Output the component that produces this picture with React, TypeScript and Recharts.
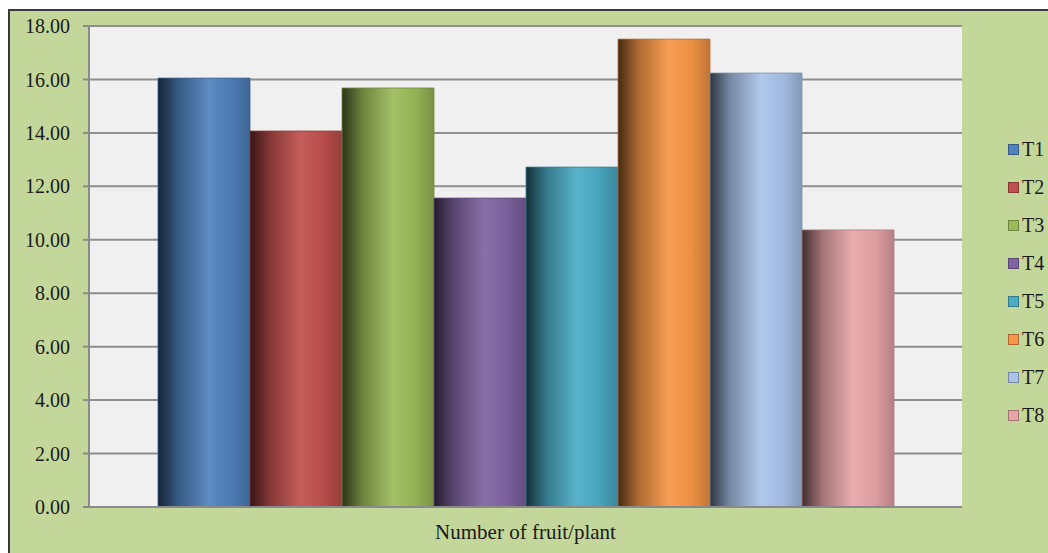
import { BarChart, Bar, XAxis, YAxis, CartesianGrid } from "recharts";

// treatments and their mean number of fruit per plant
const treatments = ["T1", "T2", "T3", "T4", "T5", "T6", "T7", "T8"];
const fruitPerPlant = [16.05, 14.07, 15.68, 11.56, 12.72, 17.51, 16.24, 10.37];
const barColors = [
  "#4F81BD",
  "#C0504D",
  "#9BBB59",
  "#8064A2",
  "#4BACC6",
  "#F79646",
  "#A9C3EA",
  "#E8A5A8",
];
const yTicks = [0, 2, 4, 6, 8, 10, 12, 14, 16, 18];
const categoryLabel = "Number of fruit/plant";

const data = [
  treatments.reduce(
    (row, t, i) => ({ ...row, [t]: fruitPerPlant[i] }),
    { name: categoryLabel } as Record<string, string | number>
  ),
];

const FONT = '"Liberation Serif", "Times New Roman", serif';

// scale an rgb hex by a factor (<1 darker, >1 lighter)
function shade(hex: string, f: number) {
  const n = parseInt(hex.slice(1), 16);
  const ch = [(n >> 16) & 255, (n >> 8) & 255, n & 255].map((c) => {
    const v = f <= 1 ? c * f : c + (255 - c) * (f - 1);
    return Math.max(0, Math.min(255, Math.round(v)));
  });
  return "rgb(" + ch.join(",") + ")";
}

export default function App() {
  return (
    <div
      style={{
        position: "fixed",
        left: 0,
        top: 0,
        width: 1048,
        height: 553,
        overflow: "hidden",
        background: "#fff",
      }}
    >
      <div
        style={{
          position: "absolute",
          left: 8,
          top: 9,
          width: 1080,
          height: 580,
          border: "2px solid #3a3a3a",
          background: "#C4D79B",
          fontFamily: FONT,
        }}
      >
        <BarChart
          width={1060}
          height={560}
          data={data}
          margin={{ top: 15, right: 108, left: 0, bottom: 24 }}
          barCategoryGap={69}
          barGap={0}
        >
          <defs>
            {barColors.map((c, i) => (
              <linearGradient key={i} id={"bar" + i} x1="0" y1="0" x2="1" y2="0">
                <stop offset="0%" stopColor={shade(c, 0.28)} />
                <stop offset="22%" stopColor={shade(c, 0.7)} />
                <stop offset="55%" stopColor={shade(c, 1.08)} />
                <stop offset="80%" stopColor={shade(c, 0.95)} />
                <stop offset="100%" stopColor={shade(c, 0.78)} />
              </linearGradient>
            ))}
          </defs>
          <CartesianGrid
            vertical={false}
            fill="#F0F0F0"
            stroke="#8e8e8e"
            strokeWidth={2}
          />
          <XAxis
            dataKey="name"
            height={40}
            tickLine={false}
            tickMargin={11}
            axisLine={{ stroke: "#8a8a8a", strokeWidth: 2 }}
            tick={{ fill: "#1a1a1a", fontSize: 21, fontFamily: FONT }}
          />
          <YAxis
            width={79}
            domain={[0, 18]}
            ticks={yTicks}
            interval={0}
            tickFormatter={(v: number) => v.toFixed(2)}
            tickSize={6}
            tickMargin={13}
            axisLine={{ stroke: "#8a8a8a", strokeWidth: 2 }}
            tickLine={{ stroke: "#8a8a8a", strokeWidth: 2 }}
            tick={{ fill: "#1a1a1a", fontSize: 20, fontFamily: FONT }}
          />
          {treatments.map((t, i) => (
            <Bar
              key={t}
              dataKey={t}
              fill={"url(#bar" + i + ")"}
              stroke={shade(barColors[i], 0.75)}
              strokeWidth={0.8}
              isAnimationActive={false}
            />
          ))}
        </BarChart>
        <div style={{ position: "absolute", left: 998, top: 119 }}>
          {treatments.map((t, i) => (
            <div
              key={t}
              style={{
                height: 38,
                display: "flex",
                alignItems: "center",
                fontSize: 20,
                color: "#1a1a1a",
                whiteSpace: "nowrap",
              }}
            >
              <span
                style={{
                  display: "inline-block",
                  width: 9,
                  height: 9,
                  marginRight: 3,
                  background: barColors[i],
                  border: "1px solid " + shade(barColors[i], 0.7),
                }}
              />
              {t}
            </div>
          ))}
        </div>
      </div>
    </div>
  );
}
